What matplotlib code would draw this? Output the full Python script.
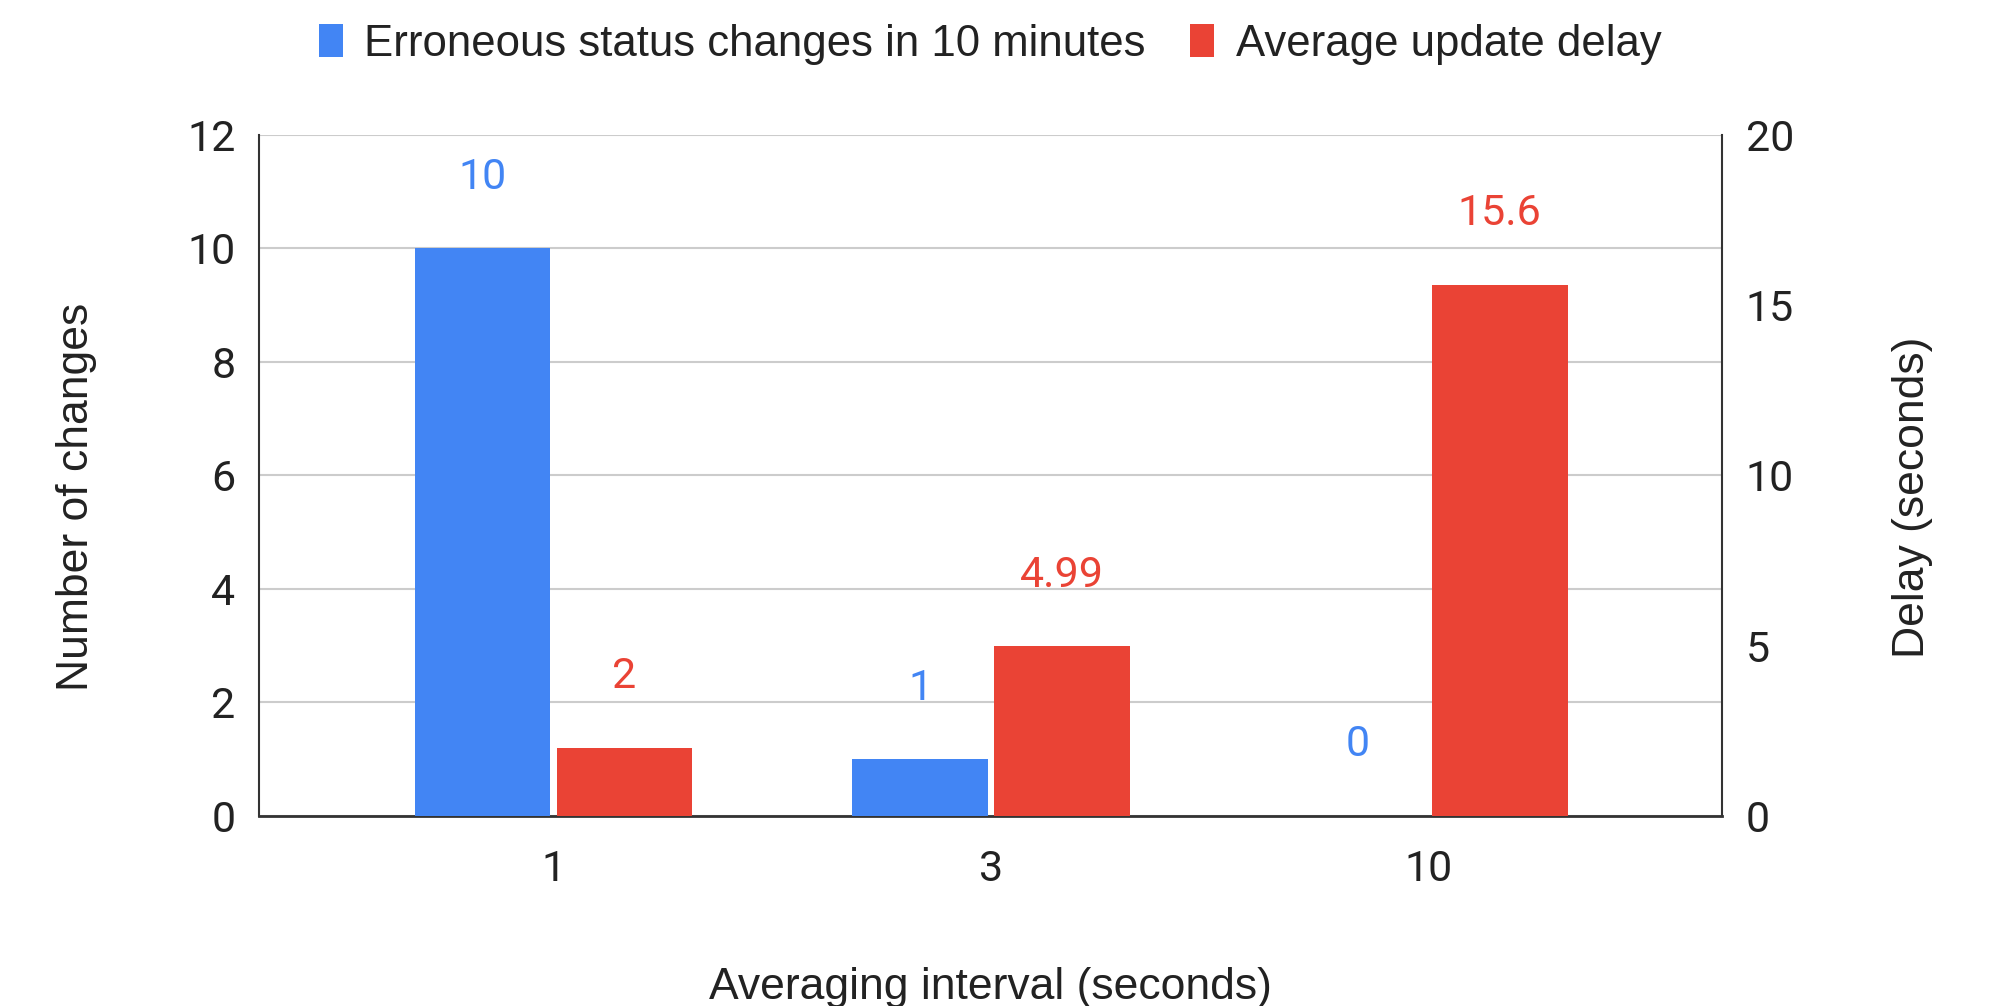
import matplotlib
matplotlib.use("Agg")
import matplotlib.pyplot as plt
import numpy as np
from matplotlib.patches import Patch

categories = ["1", "3", "10"]
erroneous_changes = [10, 1, 0]
update_delay = [2, 4.99, 15.6]
delay_labels = ["2", "4.99", "15.6"]
change_labels = ["10", "1", "0"]
left_ticks = [0, 2, 4, 6, 8, 10, 12]
right_ticks = [0, 5, 10, 15, 20]

BLUE = "#4285F4"
RED = "#EA4335"
TXT = "#222222"
TICKFONT = "Roboto"
LABFONT = "Liberation Sans"

fig = plt.figure(figsize=(20, 10.06), dpi=100)
ax = fig.add_axes([0.1295, 0.1889, 0.7315, 0.6769])
ax2 = ax.twinx()

x = np.arange(len(categories))
w = 0.31
off = 0.162
ax.bar(x - off, erroneous_changes, width=w, color=BLUE, zorder=3)
ax2.bar(x + off, update_delay, width=w, color=RED, zorder=3)

ax.set_xlim(-0.673, 2.67)
ax.set_ylim(0, 12)
ax2.set_ylim(0, 20)
ax.set_yticks(left_ticks)
ax2.set_yticks(right_ticks)
ax.set_xticks(x)
ax.set_xticklabels(categories)

ax.grid(axis="y", color="#cccccc", linewidth=1.5, zorder=0)
ax.set_axisbelow(True)
ax2.set_zorder(ax.get_zorder() + 1)
ax2.patch.set_visible(False)

for a in (ax, ax2):
    a.spines["top"].set_visible(False)
    a.tick_params(length=0, labelsize=31, colors=TXT)
    for lab in a.get_yticklabels() + a.get_xticklabels():
        lab.set_fontfamily(TICKFONT)
ax.spines["left"].set_color("#333333")
ax.spines["left"].set_linewidth(1.5)
ax.spines["right"].set_visible(False)
ax2.spines["left"].set_visible(False)
ax2.spines["bottom"].set_visible(False)
ax2.spines["right"].set_color("#333333")
ax2.spines["right"].set_linewidth(1.5)
ax.spines["bottom"].set_color("#333333")
ax.spines["bottom"].set_linewidth(2)
ax.tick_params(axis="y", pad=17)
ax2.tick_params(axis="y", pad=17)
ax.tick_params(axis="x", pad=24)

for xi, v, t in zip(x, erroneous_changes, change_labels):
    ax.annotate(t, (xi - off, v), xytext=(0, 71), textcoords="offset pixels",
                ha="center", va="center", color=BLUE, fontsize=31, fontfamily=TICKFONT)
for xi, v, t in zip(x, update_delay, delay_labels):
    ax2.annotate(t, (xi + off, v), xytext=(0, 71), textcoords="offset pixels",
                 ha="center", va="center", color=RED, fontsize=31, fontfamily=TICKFONT)

ax.set_ylabel("Number of changes", fontsize=32, fontfamily=LABFONT, color=TXT)
ax2.set_ylabel("Delay (seconds)", fontsize=32, fontfamily=LABFONT, color=TXT)
ax.yaxis.set_label_coords(-0.1105, 0.468)
ax2.yaxis.set_label_coords(1.116, 0.468)
ax.set_xlabel("Averaging interval (seconds)", fontsize=32, fontfamily=LABFONT, color=TXT, labelpad=55)

handles = [Patch(facecolor=BLUE, label="Erroneous status changes in 10 minutes"),
           Patch(facecolor=RED, label="Average update delay")]
fig.legend(handles=handles, loc="center", bbox_to_anchor=(0.495, 0.956), ncol=2,
           frameon=False, prop={"family": LABFONT, "size": 31.5},
           handlelength=0.55, handleheight=0.75, handletextpad=0.5, columnspacing=1.0,
           labelcolor=TXT)

fig.savefig("out.png", dpi=100, facecolor="white")
